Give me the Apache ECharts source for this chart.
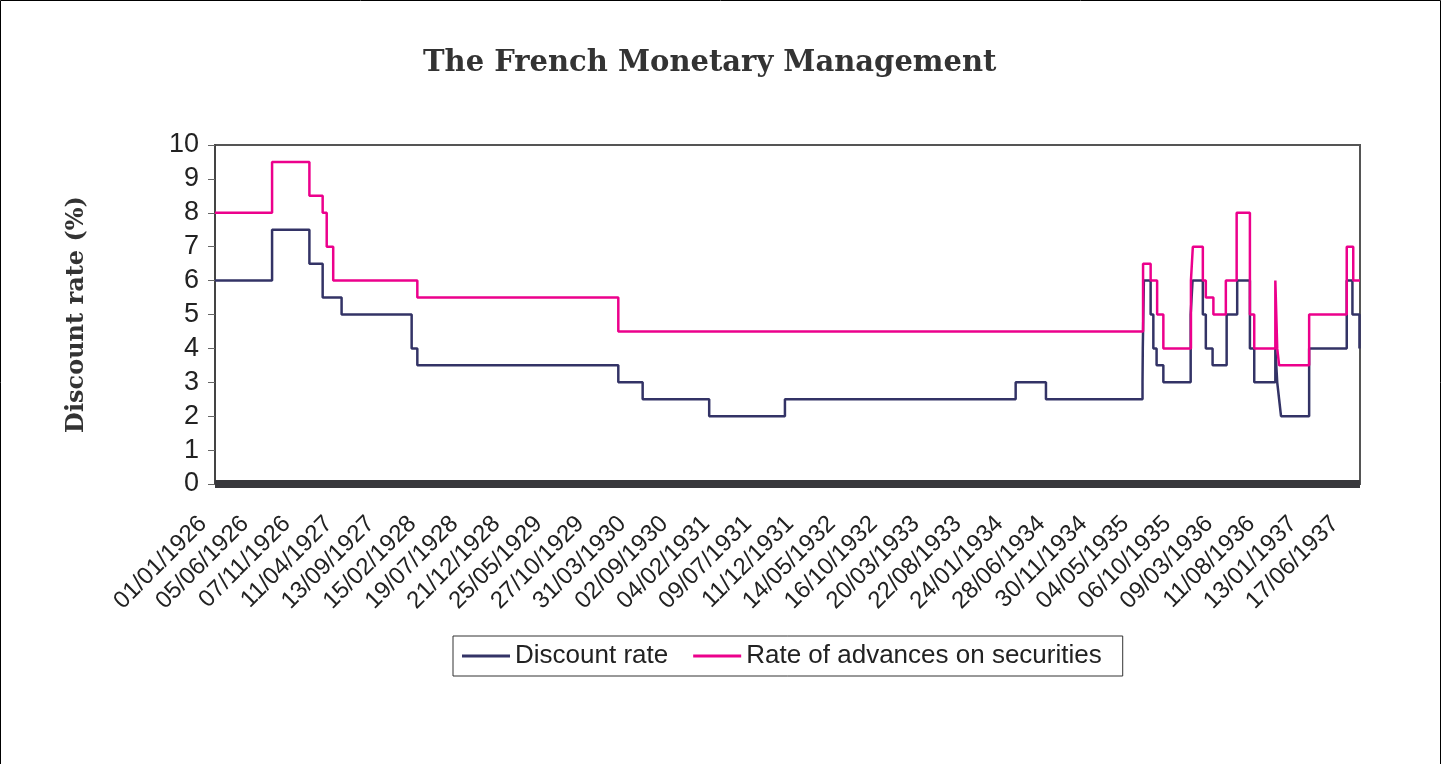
<!DOCTYPE html>
<html><head><meta charset="utf-8">
<script src="https://cdn.jsdelivr.net/npm/echarts@6/dist/echarts.min.js"></script>
<style>html,body{margin:0;padding:0;background:#fff}#c{width:1442px;height:764px}</style>
</head><body><div id="c"></div>
<script>
const axisStart = '01/01/1926';
const axisEnd = '04/08/1937';
const tickStepDays = 155;
const tickLabels = ['01/01/1926','05/06/1926','07/11/1926','11/04/1927','13/09/1927','15/02/1928','19/07/1928','21/12/1928','25/05/1929','27/10/1929','31/03/1930','02/09/1930','04/02/1931','09/07/1931','11/12/1931','14/05/1932','16/10/1932','20/03/1933','22/08/1933','24/01/1934','28/06/1934','30/11/1934','04/05/1935','06/10/1935','09/03/1936','11/08/1936','13/01/1937','17/06/1937'];

const discountDates = ['01/01/1926','31/07/1926','16/12/1926','03/02/1927','14/04/1927','29/12/1927','19/01/1928','31/01/1930','01/05/1930','02/01/1931','09/10/1931','08/02/1934','31/05/1934','23/05/1935','24/05/1935','28/05/1935','22/06/1935','02/07/1935','14/07/1935','08/08/1935','17/11/1935','24/11/1935','01/01/1936','12/01/1936','06/02/1936','29/03/1936','07/05/1936','23/06/1936','09/07/1936','25/09/1936','02/10/1936','09/10/1936','16/10/1936','28/01/1937','16/06/1937','07/07/1937','02/08/1937','04/08/1937'];
const discountValues = [6,7.5,6.5,5.5,5,4,3.5,3,2.5,2,2.5,3,2.5,3,4,6,5,4,3.5,3,5,6,5,4,3.5,5,6,4,3,4,3,2.5,2,4,6,5,4,4];

const advanceDates = ['01/01/1926','31/07/1926','16/12/1926','03/02/1927','18/02/1927','14/03/1927','19/01/1928','31/01/1930','25/05/1935','22/06/1935','16/07/1935','08/08/1935','18/11/1935','25/11/1935','01/01/1936','12/01/1936','09/02/1936','26/03/1936','05/05/1936','23/06/1936','09/07/1936','25/09/1936','02/10/1936','09/10/1936','28/01/1937','16/06/1937','10/07/1937','04/08/1937'];
const advanceValues = [8,9.5,8.5,8,7,6,5.5,4.5,6.5,6,5,4,6,7,6,5.5,5,6,8,5,4,6,4,3.5,5,7,6,6];

function dayIndex(s) {
  const p = s.split('/').map(Number);
  const a = axisStart.split('/').map(Number);
  return Math.round((Date.UTC(p[2], p[1] - 1, p[0]) - Date.UTC(a[2], a[1] - 1, a[0])) / 86400000);
}
function pairs(dates, vals) { return dates.map((d, i) => [dayIndex(d), vals[i]]); }

const chart = echarts.init(document.getElementById('c'), null, {renderer: 'canvas'});
chart.setOption({
  animation: false,
  backgroundColor: '#ffffff',
  title: {
    text: 'The French Monetary Management',
    left: 418, top: 44,
    textStyle: {fontFamily: 'DejaVu Serif', fontWeight: 'bold', fontSize: 29, color: '#333333'}
  },
  legend: {
    left: 453, top: 636,
    icon: 'rect', itemWidth: 48, itemHeight: 3, itemGap: 25,
    borderColor: '#333', borderWidth: 1,
    padding: [7, 21, 7, 9],
    textStyle: {fontFamily: 'Liberation Sans', fontSize: 26, color: '#222'},
    data: ['Discount rate', 'Rate of advances on securities']
  },
  grid: {left: 215, right: 82, top: 145, bottom: 280, show: true, borderColor: '#555', borderWidth: 2, containLabel: false},
  xAxis: {
    type: 'value', min: 0, max: dayIndex(axisEnd), interval: tickStepDays,
    offset: 4,
    axisLine: {show: true, lineStyle: {color: '#38383c', width: 8, cap: 'butt'}},
    axisTick: {show: false},
    splitLine: {show: false},
    axisLabel: {
      rotate: 45, fontFamily: 'Liberation Sans', fontSize: 24, color: '#222', margin: 20,
      padding: [0, 17, 0, 0],
      showMaxLabel: false,
      formatter: v => (v % tickStepDays === 0 && tickLabels[v / tickStepDays]) ? tickLabels[v / tickStepDays] : ''
    }
  },
  yAxis: {
    type: 'value', min: 0, max: 10, interval: 1,
    axisLine: {show: true, lineStyle: {color: '#444', width: 2}},
    axisTick: {show: true, length: 7, lineStyle: {color: '#666'}},
    splitLine: {show: false},
    axisLabel: {fontFamily: 'Liberation Sans', fontSize: 27, color: '#222', margin: 16},
    name: 'Discount rate (%)', nameLocation: 'middle', nameGap: 126,
    nameTextStyle: {fontFamily: 'DejaVu Serif', fontWeight: 'bold', fontSize: 24, color: '#333'}
  },
  series: [
    {name: 'Discount rate', type: 'line', step: 'end', symbol: 'none', data: pairs(discountDates, discountValues),
     lineStyle: {color: '#333366', width: 2.5}, itemStyle: {color: '#333366'}},
    {name: 'Rate of advances on securities', type: 'line', step: 'end', symbol: 'none', data: pairs(advanceDates, advanceValues),
     lineStyle: {color: '#ec008c', width: 2.5}, itemStyle: {color: '#ec008c'}}
  ],
  graphic: [{type: 'rect', shape: {x: 0.5, y: 0.5, width: 1440, height: 780}, style: {fill: 'none', stroke: '#000', lineWidth: 1}, silent: true}]
});
</script></body></html>
